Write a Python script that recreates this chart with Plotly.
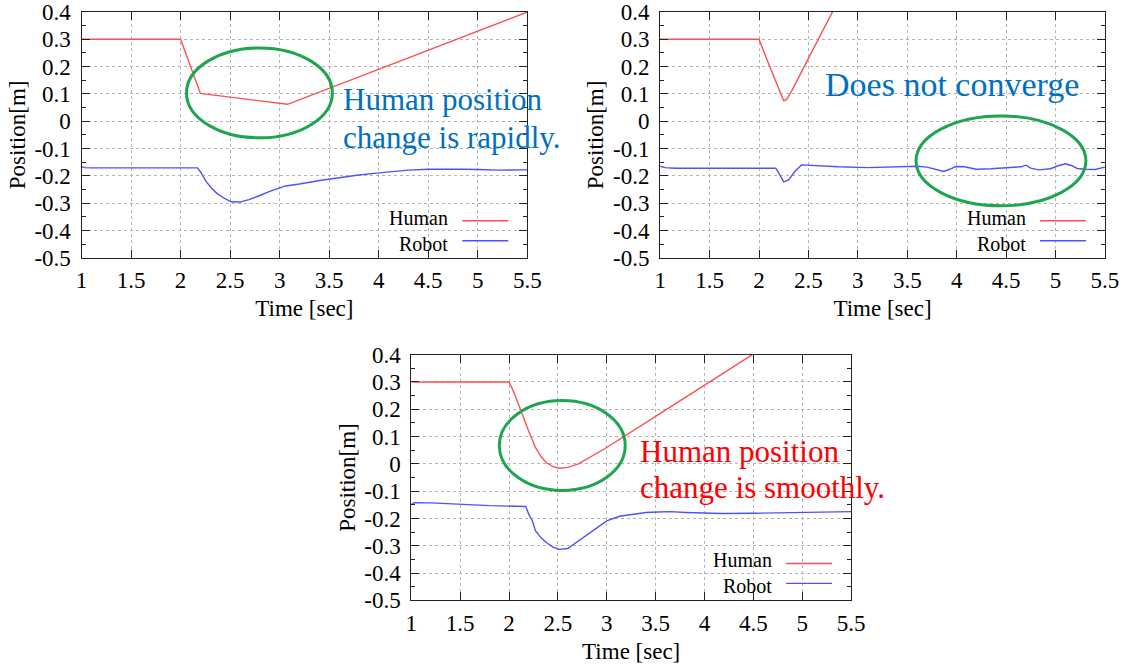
import plotly.graph_objects as go

W, H = 1135, 667

# ---------------- data ----------------
# Panel A: "Human position change is rapidly."
t_a_human = [1.0, 2.0, 2.2, 3.08, 5.5]
y_a_human = [0.3, 0.3, 0.102, 0.062, 0.4]
t_a_robot = [1.0, 1.03, 1.1, 2.17, 2.2, 2.26, 2.32, 2.37, 2.44, 2.51, 2.6, 2.69, 2.8, 2.9,
             3.06, 3.2, 3.42, 3.6, 3.78, 4.0, 4.14, 4.3, 4.5, 4.7, 4.86, 5.0, 5.22, 5.5]
y_a_robot = [-0.166, -0.17, -0.171, -0.171, -0.185, -0.222, -0.248, -0.265, -0.282, -0.295,
             -0.296, -0.287, -0.272, -0.257, -0.237, -0.23, -0.216, -0.206, -0.198, -0.189,
             -0.184, -0.179, -0.176, -0.175, -0.176, -0.177, -0.179, -0.178]

# Panel B: "Does not converge"
t_b_human = [1.0, 2.0, 2.1, 2.18, 2.22, 2.25, 2.28, 2.33, 2.5, 2.74, 2.8]
y_b_human = [0.3, 0.3, 0.208, 0.135, 0.095, 0.075, 0.08, 0.11, 0.23, 0.4, 0.44]
t_b_robot = [1.0, 1.05, 1.15, 2.17, 2.2, 2.25, 2.3, 2.36, 2.43, 2.55, 2.8, 3.1, 3.45, 3.6,
             3.7, 3.8, 3.87, 3.93, 3.99, 4.08, 4.2, 4.35, 4.5, 4.65, 4.7, 4.75, 4.83, 4.95,
             5.02, 5.1, 5.16, 5.22, 5.3, 5.4, 5.5]
y_b_robot = [-0.165, -0.17, -0.172, -0.172, -0.19, -0.222, -0.215, -0.185, -0.16, -0.163,
             -0.167, -0.17, -0.168, -0.165, -0.168, -0.176, -0.184, -0.176, -0.166, -0.167,
             -0.176, -0.174, -0.171, -0.167, -0.161, -0.172, -0.178, -0.174, -0.164, -0.156,
             -0.162, -0.173, -0.176, -0.177, -0.168]

# Panel C: "Human position change is smoothly."
t_c_human = [1.0, 2.0, 2.05, 2.12, 2.2, 2.27, 2.33, 2.38, 2.45, 2.52, 2.6, 2.71, 2.85, 3.0,
             3.5, 4.0, 4.49]
y_c_human = [0.3, 0.3, 0.262, 0.195, 0.12, 0.06, 0.025, 0.005, -0.01, -0.016, -0.013, 0.0,
             0.03, 0.06, 0.174, 0.288, 0.4]
t_c_robot = [1.0, 1.03, 1.2, 1.5, 1.8, 2.17, 2.18, 2.2, 2.24, 2.27, 2.33, 2.38, 2.45, 2.51,
             2.6, 2.71, 2.85, 3.0, 3.13, 3.26, 3.4, 3.52, 3.65, 3.81, 4.0, 4.17, 4.5, 4.9,
             5.2, 5.5]
y_c_robot = [-0.148, -0.142, -0.143, -0.148, -0.153, -0.156, -0.165, -0.183, -0.21, -0.245,
             -0.272, -0.288, -0.305, -0.313, -0.31, -0.282, -0.245, -0.209, -0.192, -0.184,
             -0.178, -0.176, -0.175, -0.178, -0.18, -0.182, -0.181, -0.178, -0.177, -0.175]

x_ticks = [1, 1.5, 2, 2.5, 3, 3.5, 4, 4.5, 5, 5.5]
x_tick_labels = ["1", "1.5", "2", "2.5", "3", "3.5", "4", "4.5", "5", "5.5"]
y_ticks = [0.4, 0.3, 0.2, 0.1, 0, -0.1, -0.2, -0.3, -0.4, -0.5]
y_tick_labels = ["0.4", "0.3", "0.2", "0.1", "0", "-0.1", "-0.2", "-0.3", "-0.4", "-0.5"]

series_names = ["Human", "Robot"]
x_title = "Time [sec]"
y_title = "Position[m]"

# ---------------- style ----------------
FONT = "Liberation Serif"
RED = "rgb(255,80,80)"
BLUE = "rgb(80,80,255)"
GREEN = "rgb(30,165,80)"

# capture correction (observed: shown_x ~= 6.4 + 0.983*x, shown_y ~= 11 + 0.9635*y)
X_OFF, X_SCALE = 6.4, 0.983
Y_OFF, Y_SCALE = 11.0, 0.9635


def px(x):
    return ((x - X_OFF) / X_SCALE) / W


def py(y):
    return 1 - ((y - Y_OFF) / Y_SCALE) / H


# plot rectangles in target pixels: (left, top, right, bottom)
panels = [
    (82, 11, 528, 257),
    (661, 11, 1106, 257),
    (412, 354, 852, 600),
]
data = [
    (t_a_human, y_a_human, t_a_robot, y_a_robot),
    (t_b_human, y_b_human, t_b_robot, y_b_robot),
    (t_c_human, y_c_human, t_c_robot, y_c_robot),
]

fig = go.Figure()
layout = dict(
    width=W, height=H, margin=dict(l=0, r=0, t=0, b=0),
    paper_bgcolor="white", plot_bgcolor="white", showlegend=False,
    font=dict(family=FONT, size=22, color="black"),
)
shapes = []
annotations = []

for i, ((l, t, r, b), (th, yh, tr, yr)) in enumerate(zip(panels, data)):
    sfx = "" if i == 0 else str(i + 1)
    xa, ya = "x" + sfx, "y" + sfx
    fig.add_trace(go.Scatter(x=th, y=yh, mode="lines", name=series_names[0],
                             line=dict(color=RED, width=1.4), xaxis=xa, yaxis=ya))
    fig.add_trace(go.Scatter(x=tr, y=yr, mode="lines", name=series_names[1],
                             line=dict(color=BLUE, width=1.4), xaxis=xa, yaxis=ya))
    common = dict(showline=True, linecolor="#222", linewidth=1.2, mirror="ticks",
                  ticks="inside", ticklen=8, tickcolor="#222", tickwidth=1,
                  showgrid=True, gridcolor="#b4b4b4", griddash="dot", gridwidth=1,
                  zeroline=False, tickfont=dict(family=FONT, size=23, color="black"))
    layout["xaxis" + sfx] = dict(
        common, domain=[px(l), px(r)], anchor=ya, range=[1, 5.5],
        tickvals=x_ticks, ticktext=x_tick_labels, ticklabelstandoff=2,
        title=dict(text=x_title, font=dict(family=FONT, size=23), standoff=7),
    )
    layout["yaxis" + sfx] = dict(
        common, domain=[py(b), py(t)], anchor=xa, range=[-0.5, 0.4],
        tickvals=y_ticks, ticktext=y_tick_labels, ticklabelstandoff=5,
        minor=dict(ticks="inside", ticklen=4, tickcolor="#222", dtick=0.05,
                   tick0=0, showgrid=False),
        title=dict(text=y_title, font=dict(family=FONT, size=23), standoff=2),
    )
    # legend (gnuplot style: text column, then sample lines)
    lx0, lx1 = r - 65, r - 19
    for k, col in enumerate([RED, BLUE]):
        yy = b - 37 + 20 * k
        shapes.append(dict(type="line", xref="paper", yref="paper",
                           x0=px(lx0), x1=px(lx1), y0=py(yy), y1=py(yy),
                           line=dict(color=col, width=1.4)))
    annotations.append(dict(xref="paper", yref="paper", x=px(lx0 - 12),
                            y=py(b - 27), text="<br>".join(series_names), showarrow=False,
                            xanchor="right", yanchor="middle", align="right",
                            font=dict(family=FONT, size=20, color="black")))

# green ellipses
for (cx, cy, rx, ry) in [(260, 92, 73, 45), (1002, 160, 85, 45), (563, 445, 63, 45)]:
    shapes.append(dict(type="circle", xref="paper", yref="paper",
                       x0=px(cx - rx), x1=px(cx + rx), y0=py(cy + ry), y1=py(cy - ry),
                       line=dict(color=GREEN, width=3)))

# callout texts
callouts = [
    (342, 99, "Human position", "rgb(0,112,192)", 31),
    (342, 137, "change is rapidly.", "rgb(0,112,192)", 31),
    (824, 84, "Does not converge", "rgb(0,112,192)", 34),
    (639, 451, "Human position", "rgb(255,0,0)", 31),
    (639, 487, "change is smoothly.", "rgb(255,0,0)", 31),
]
for (x, y, txt, col, sz) in callouts:
    annotations.append(dict(xref="paper", yref="paper", x=px(x), y=py(y), text=txt,
                            showarrow=False, xanchor="left", yanchor="middle",
                            font=dict(family=FONT, size=sz, color=col)))

layout["shapes"] = shapes
layout["annotations"] = annotations
fig.update_layout(**layout)
fig.write_html("out.html", config={"displayModeBar": False})
